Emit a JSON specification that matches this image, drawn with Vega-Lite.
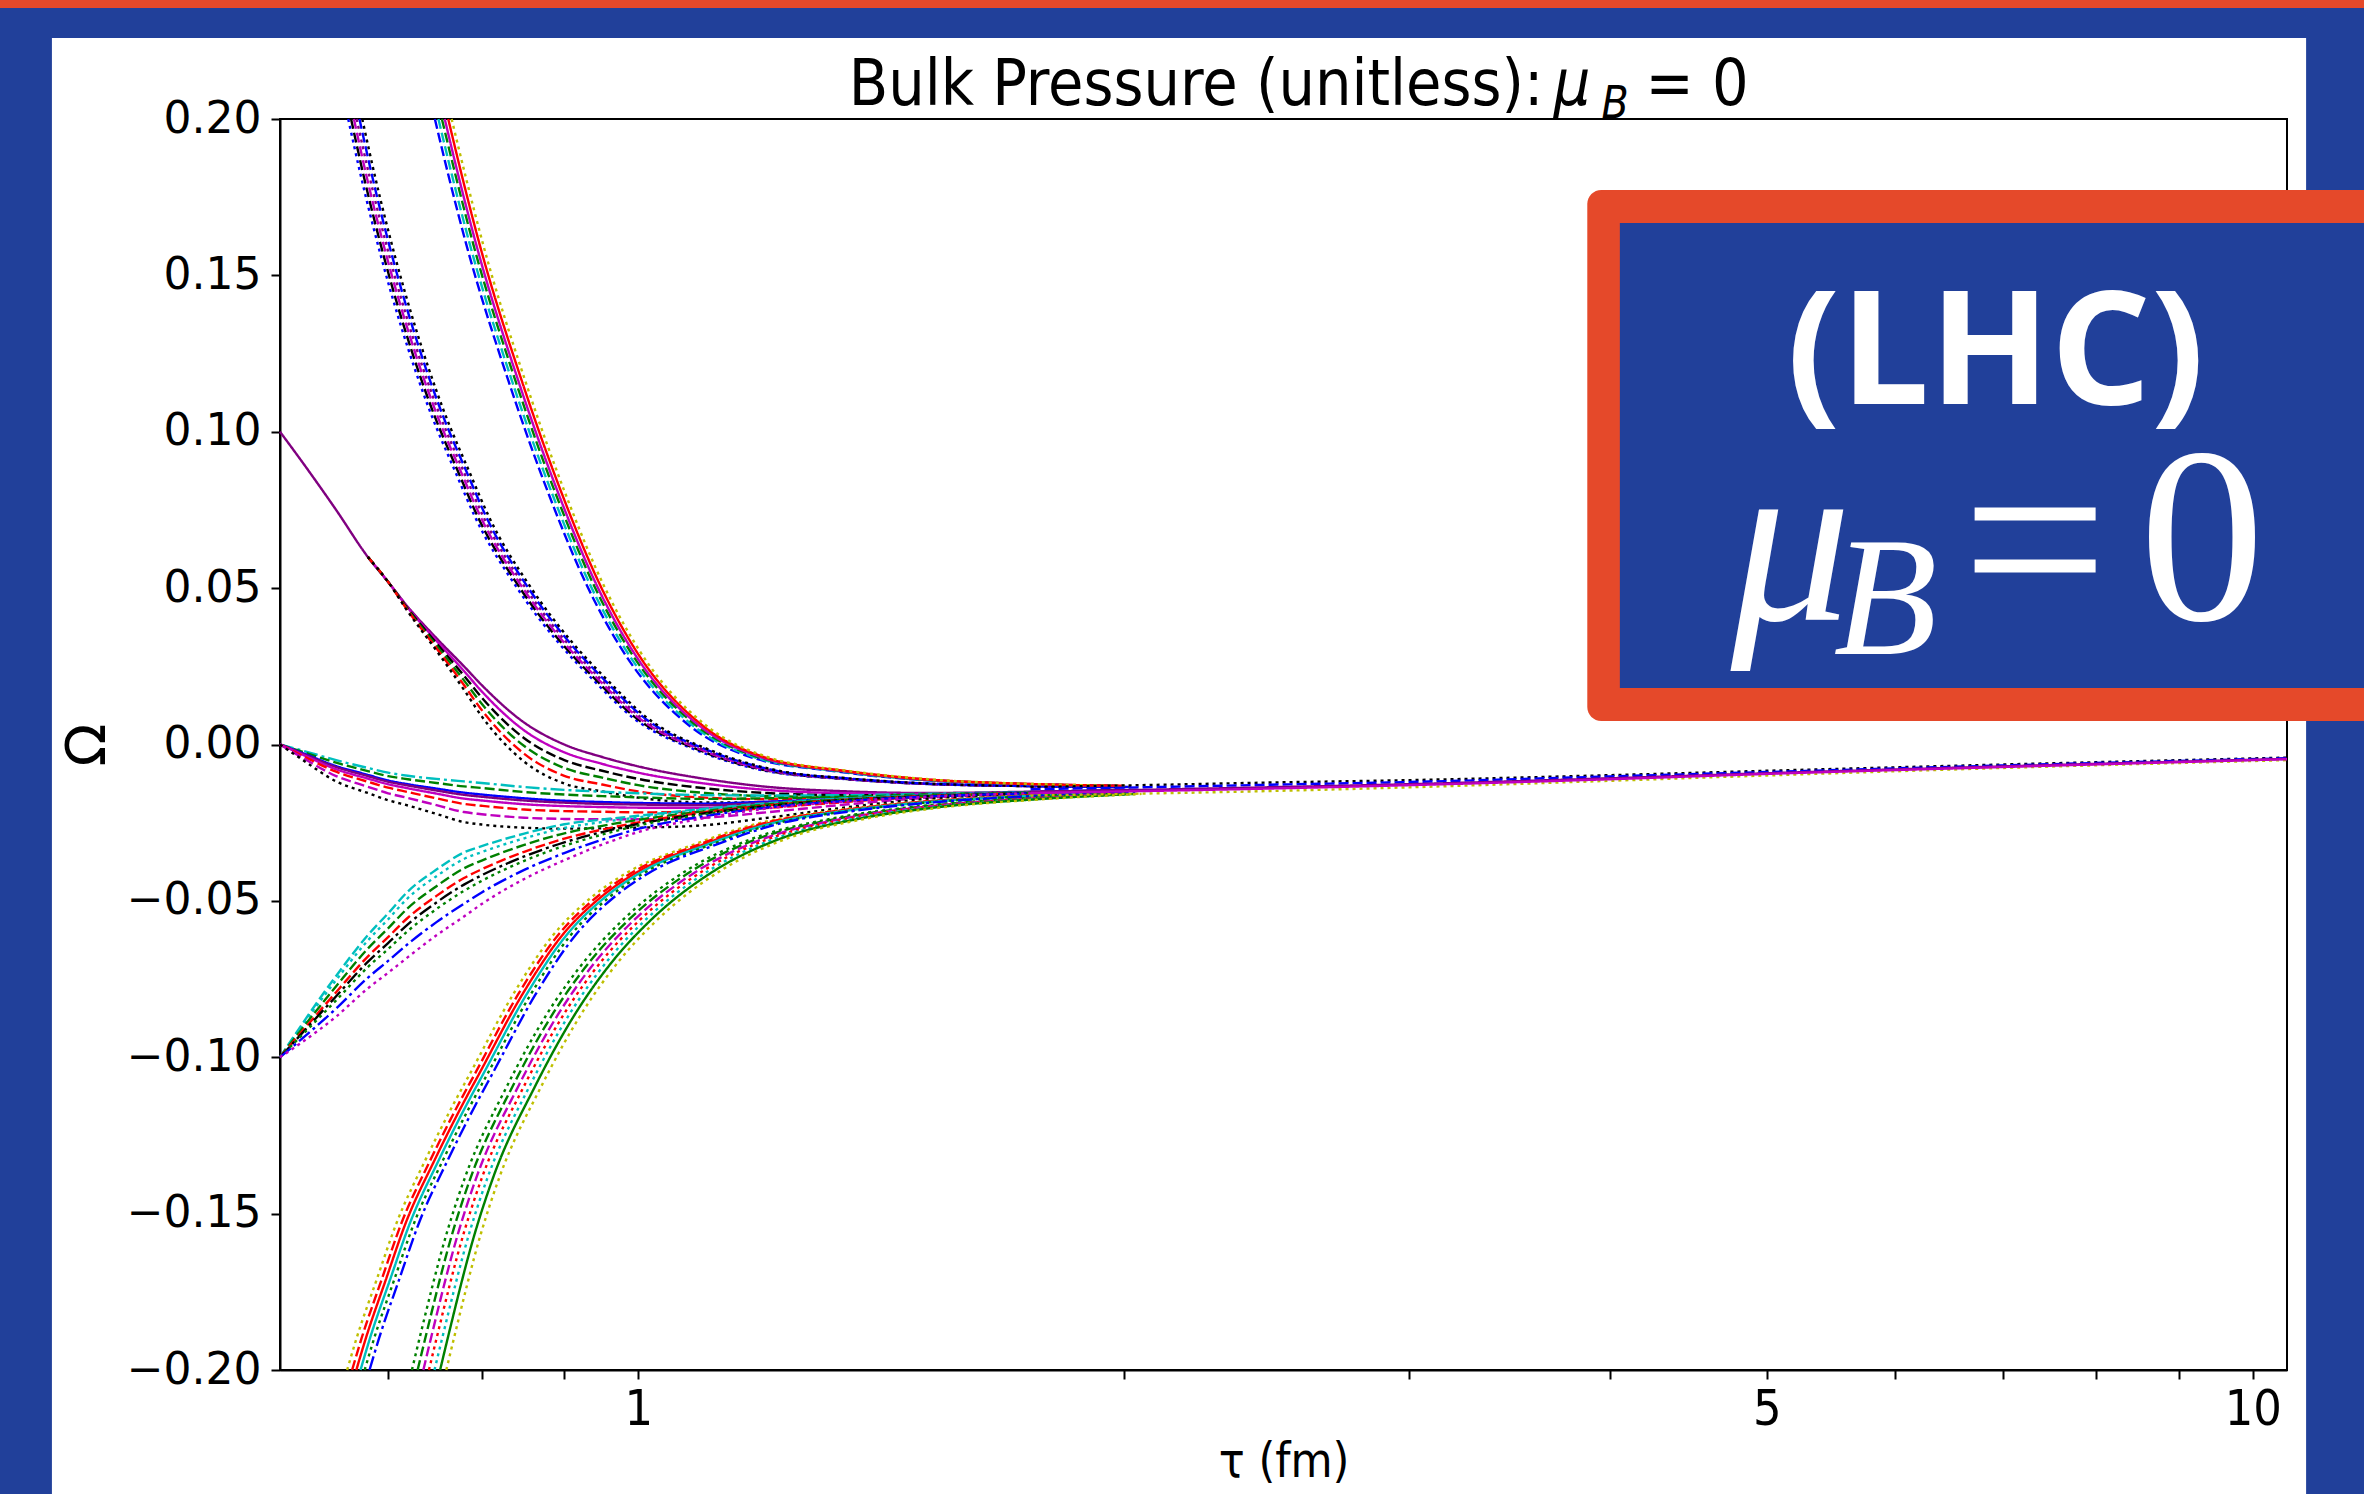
{
"$schema": "https://vega.github.io/schema/vega-lite/v6.json",
"width": 2007, "height": 1251,
"autosize": {"type": "none"},
"padding": {"left": 280, "top": 119, "right": 77, "bottom": 124},
"background": "#FFFFFF",
"config": {"view": {"stroke": "#000000", "strokeWidth": 2}, "font": "DejaVu Sans"},
"datasets": {
"curves": [
{"s":"A1","t":0.6,"o":0.1},{"s":"A1","t":0.62,"o":0.09},{"s":"A1","t":0.65,"o":0.075},{"s":"A1","t":0.68,"o":0.06},{"s":"A1","t":0.7,"o":0.052},{"s":"A1","t":0.72,"o":0.044},{"s":"A1","t":0.75,"o":0.034},{"s":"A1","t":0.78,"o":0.025},{"s":"A1","t":0.8,"o":0.019},{"s":"A1","t":0.85,"o":0.007},{"s":"A1","t":0.9,"o":0},{"s":"A1","t":0.95,"o":-0.004},{"s":"A1","t":1,"o":-0.007},{"s":"A1","t":1.1,"o":-0.011},{"s":"A1","t":1.2,"o":-0.0135},{"s":"A1","t":1.35,"o":-0.015},{"s":"A1","t":1.5,"o":-0.0155},{"s":"A1","t":1.75,"o":-0.0151},{"s":"A1","t":2,"o":-0.0146},
{"s":"A2","t":0.68,"o":0.06},{"s":"A2","t":0.7,"o":0.052},{"s":"A2","t":0.72,"o":0.0437},{"s":"A2","t":0.75,"o":0.0332},{"s":"A2","t":0.78,"o":0.0235},{"s":"A2","t":0.8,"o":0.017},{"s":"A2","t":0.85,"o":0.0045},{"s":"A2","t":0.9,"o":-0.0025},{"s":"A2","t":0.95,"o":-0.0062},{"s":"A2","t":1,"o":-0.009},{"s":"A2","t":1.1,"o":-0.0125},{"s":"A2","t":1.2,"o":-0.0145},{"s":"A2","t":1.35,"o":-0.0156},{"s":"A2","t":1.5,"o":-0.0158},{"s":"A2","t":1.75,"o":-0.0152},{"s":"A2","t":2,"o":-0.0146},
{"s":"A3","t":0.68,"o":0.06},{"s":"A3","t":0.7,"o":0.052},{"s":"A3","t":0.72,"o":0.0434},{"s":"A3","t":0.75,"o":0.0324},{"s":"A3","t":0.78,"o":0.022},{"s":"A3","t":0.8,"o":0.015},{"s":"A3","t":0.85,"o":0.002},{"s":"A3","t":0.9,"o":-0.005},{"s":"A3","t":0.95,"o":-0.0084},{"s":"A3","t":1,"o":-0.011},{"s":"A3","t":1.1,"o":-0.014},{"s":"A3","t":1.2,"o":-0.0155},{"s":"A3","t":1.35,"o":-0.0162},{"s":"A3","t":1.5,"o":-0.0161},{"s":"A3","t":1.75,"o":-0.0153},{"s":"A3","t":2,"o":-0.0146},
{"s":"A4","t":0.68,"o":0.06},{"s":"A4","t":0.7,"o":0.052},{"s":"A4","t":0.72,"o":0.0431},{"s":"A4","t":0.75,"o":0.0316},{"s":"A4","t":0.78,"o":0.0205},{"s":"A4","t":0.8,"o":0.013},{"s":"A4","t":0.85,"o":-0.0005},{"s":"A4","t":0.9,"o":-0.0075},{"s":"A4","t":0.95,"o":-0.0106},{"s":"A4","t":1,"o":-0.013},{"s":"A4","t":1.1,"o":-0.0155},{"s":"A4","t":1.2,"o":-0.0165},{"s":"A4","t":1.35,"o":-0.0168},{"s":"A4","t":1.5,"o":-0.0164},{"s":"A4","t":1.75,"o":-0.0154},{"s":"A4","t":2,"o":-0.0146},
{"s":"A5","t":0.68,"o":0.06},{"s":"A5","t":0.7,"o":0.052},{"s":"A5","t":0.72,"o":0.0428},{"s":"A5","t":0.75,"o":0.0308},{"s":"A5","t":0.78,"o":0.019},{"s":"A5","t":0.8,"o":0.011},{"s":"A5","t":0.85,"o":-0.003},{"s":"A5","t":0.9,"o":-0.01},{"s":"A5","t":0.95,"o":-0.0128},{"s":"A5","t":1,"o":-0.015},{"s":"A5","t":1.1,"o":-0.017},{"s":"A5","t":1.2,"o":-0.0175},{"s":"A5","t":1.35,"o":-0.0174},{"s":"A5","t":1.5,"o":-0.0167},{"s":"A5","t":1.75,"o":-0.0155},{"s":"A5","t":2,"o":-0.0146},
{"s":"A6","t":0.68,"o":0.06},{"s":"A6","t":0.7,"o":0.052},{"s":"A6","t":0.72,"o":0.0425},{"s":"A6","t":0.75,"o":0.03},{"s":"A6","t":0.78,"o":0.0175},{"s":"A6","t":0.8,"o":0.009},{"s":"A6","t":0.85,"o":-0.0055},{"s":"A6","t":0.9,"o":-0.0125},{"s":"A6","t":0.95,"o":-0.015},{"s":"A6","t":1,"o":-0.017},{"s":"A6","t":1.1,"o":-0.0185},{"s":"A6","t":1.2,"o":-0.0185},{"s":"A6","t":1.35,"o":-0.018},{"s":"A6","t":1.5,"o":-0.017},{"s":"A6","t":1.75,"o":-0.0156},{"s":"A6","t":2,"o":-0.0146},
{"s":"B1a","t":0.6613,"o":0.2},{"s":"B1a","t":0.6732,"o":0.182},{"s":"B1a","t":0.693,"o":0.156},{"s":"B1a","t":0.7128,"o":0.134},{"s":"B1a","t":0.7425,"o":0.107},{"s":"B1a","t":0.7722,"o":0.086},{"s":"B1a","t":0.792,"o":0.073},{"s":"B1a","t":0.8415,"o":0.05},{"s":"B1a","t":0.891,"o":0.033},{"s":"B1a","t":0.9405,"o":0.02},{"s":"B1a","t":0.99,"o":0.009},{"s":"B1a","t":1.089,"o":-0.002},{"s":"B1a","t":1.188,"o":-0.008},{"s":"B1a","t":1.3365,"o":-0.011},{"s":"B1a","t":1.485,"o":-0.0125},{"s":"B1a","t":1.7325,"o":-0.0133},{"s":"B1a","t":1.98,"o":-0.0136},
{"s":"B1b","t":0.664,"o":0.2},{"s":"B1b","t":0.6759,"o":0.182},{"s":"B1b","t":0.6958,"o":0.156},{"s":"B1b","t":0.7157,"o":0.134},{"s":"B1b","t":0.7455,"o":0.107},{"s":"B1b","t":0.7753,"o":0.086},{"s":"B1b","t":0.7952,"o":0.073},{"s":"B1b","t":0.8449,"o":0.05},{"s":"B1b","t":0.8946,"o":0.033},{"s":"B1b","t":0.9443,"o":0.02},{"s":"B1b","t":0.994,"o":0.009},{"s":"B1b","t":1.0934,"o":-0.002},{"s":"B1b","t":1.1928,"o":-0.008},{"s":"B1b","t":1.3419,"o":-0.011},{"s":"B1b","t":1.491,"o":-0.0125},{"s":"B1b","t":1.7395,"o":-0.0133},{"s":"B1b","t":1.988,"o":-0.0136},
{"s":"B1c","t":0.6667,"o":0.2},{"s":"B1c","t":0.6786,"o":0.182},{"s":"B1c","t":0.6986,"o":0.156},{"s":"B1c","t":0.7186,"o":0.134},{"s":"B1c","t":0.7485,"o":0.107},{"s":"B1c","t":0.7784,"o":0.086},{"s":"B1c","t":0.7984,"o":0.073},{"s":"B1c","t":0.8483,"o":0.05},{"s":"B1c","t":0.8982,"o":0.033},{"s":"B1c","t":0.9481,"o":0.02},{"s":"B1c","t":0.998,"o":0.009},{"s":"B1c","t":1.0978,"o":-0.002},{"s":"B1c","t":1.1976,"o":-0.008},{"s":"B1c","t":1.3473,"o":-0.011},{"s":"B1c","t":1.497,"o":-0.0125},{"s":"B1c","t":1.7465,"o":-0.0133},{"s":"B1c","t":1.996,"o":-0.0136},
{"s":"B1d","t":0.6693,"o":0.2},{"s":"B1d","t":0.6814,"o":0.182},{"s":"B1d","t":0.7014,"o":0.156},{"s":"B1d","t":0.7214,"o":0.134},{"s":"B1d","t":0.7515,"o":0.107},{"s":"B1d","t":0.7816,"o":0.086},{"s":"B1d","t":0.8016,"o":0.073},{"s":"B1d","t":0.8517,"o":0.05},{"s":"B1d","t":0.9018,"o":0.033},{"s":"B1d","t":0.9519,"o":0.02},{"s":"B1d","t":1.002,"o":0.009},{"s":"B1d","t":1.1022,"o":-0.002},{"s":"B1d","t":1.2024,"o":-0.008},{"s":"B1d","t":1.3527,"o":-0.011},{"s":"B1d","t":1.503,"o":-0.0125},{"s":"B1d","t":1.7535,"o":-0.0133},{"s":"B1d","t":2.004,"o":-0.0136},
{"s":"B1e","t":0.672,"o":0.2},{"s":"B1e","t":0.6841,"o":0.182},{"s":"B1e","t":0.7042,"o":0.156},{"s":"B1e","t":0.7243,"o":0.134},{"s":"B1e","t":0.7545,"o":0.107},{"s":"B1e","t":0.7847,"o":0.086},{"s":"B1e","t":0.8048,"o":0.073},{"s":"B1e","t":0.8551,"o":0.05},{"s":"B1e","t":0.9054,"o":0.033},{"s":"B1e","t":0.9557,"o":0.02},{"s":"B1e","t":1.006,"o":0.009},{"s":"B1e","t":1.1066,"o":-0.002},{"s":"B1e","t":1.2072,"o":-0.008},{"s":"B1e","t":1.3581,"o":-0.011},{"s":"B1e","t":1.509,"o":-0.0125},{"s":"B1e","t":1.7605,"o":-0.0133},{"s":"B1e","t":2.012,"o":-0.0136},
{"s":"B1f","t":0.6747,"o":0.2},{"s":"B1f","t":0.6868,"o":0.182},{"s":"B1f","t":0.707,"o":0.156},{"s":"B1f","t":0.7272,"o":0.134},{"s":"B1f","t":0.7575,"o":0.107},{"s":"B1f","t":0.7878,"o":0.086},{"s":"B1f","t":0.808,"o":0.073},{"s":"B1f","t":0.8585,"o":0.05},{"s":"B1f","t":0.909,"o":0.033},{"s":"B1f","t":0.9595,"o":0.02},{"s":"B1f","t":1.01,"o":0.009},{"s":"B1f","t":1.111,"o":-0.002},{"s":"B1f","t":1.212,"o":-0.008},{"s":"B1f","t":1.3635,"o":-0.011},{"s":"B1f","t":1.515,"o":-0.0125},{"s":"B1f","t":1.7675,"o":-0.0133},{"s":"B1f","t":2.02,"o":-0.0136},
{"s":"B2a","t":0.7483,"o":0.2},{"s":"B2a","t":0.7629,"o":0.182},{"s":"B2a","t":0.7825,"o":0.16},{"s":"B2a","t":0.8314,"o":0.116},{"s":"B2a","t":0.8803,"o":0.08},{"s":"B2a","t":0.9292,"o":0.051},{"s":"B2a","t":0.9781,"o":0.03},{"s":"B2a","t":1.0759,"o":0.006},{"s":"B2a","t":1.1737,"o":-0.004},{"s":"B2a","t":1.3205,"o":-0.0085},{"s":"B2a","t":1.4672,"o":-0.011},{"s":"B2a","t":1.7117,"o":-0.0126},{"s":"B2a","t":1.9562,"o":-0.0132},
{"s":"B2b","t":0.7521,"o":0.2},{"s":"B2b","t":0.7668,"o":0.182},{"s":"B2b","t":0.7865,"o":0.16},{"s":"B2b","t":0.8356,"o":0.116},{"s":"B2b","t":0.8848,"o":0.08},{"s":"B2b","t":0.9339,"o":0.051},{"s":"B2b","t":0.9831,"o":0.03},{"s":"B2b","t":1.0814,"o":0.006},{"s":"B2b","t":1.1797,"o":-0.004},{"s":"B2b","t":1.3271,"o":-0.0085},{"s":"B2b","t":1.4746,"o":-0.011},{"s":"B2b","t":1.7204,"o":-0.0126},{"s":"B2b","t":1.9661,"o":-0.0132},
{"s":"B2c","t":0.7558,"o":0.2},{"s":"B2c","t":0.7707,"o":0.182},{"s":"B2c","t":0.7904,"o":0.16},{"s":"B2c","t":0.8398,"o":0.116},{"s":"B2c","t":0.8892,"o":0.08},{"s":"B2c","t":0.9386,"o":0.051},{"s":"B2c","t":0.988,"o":0.03},{"s":"B2c","t":1.0868,"o":0.006},{"s":"B2c","t":1.1856,"o":-0.004},{"s":"B2c","t":1.3338,"o":-0.0085},{"s":"B2c","t":1.482,"o":-0.011},{"s":"B2c","t":1.729,"o":-0.0126},{"s":"B2c","t":1.976,"o":-0.0132},
{"s":"B2d","t":0.7589,"o":0.2},{"s":"B2d","t":0.7737,"o":0.182},{"s":"B2d","t":0.7936,"o":0.16},{"s":"B2d","t":0.8432,"o":0.116},{"s":"B2d","t":0.8928,"o":0.08},{"s":"B2d","t":0.9424,"o":0.051},{"s":"B2d","t":0.992,"o":0.03},{"s":"B2d","t":1.0912,"o":0.006},{"s":"B2d","t":1.1904,"o":-0.004},{"s":"B2d","t":1.3392,"o":-0.0085},{"s":"B2d","t":1.488,"o":-0.011},{"s":"B2d","t":1.736,"o":-0.0126},{"s":"B2d","t":1.984,"o":-0.0132},
{"s":"B2e","t":0.7627,"o":0.2},{"s":"B2e","t":0.7776,"o":0.182},{"s":"B2e","t":0.7975,"o":0.16},{"s":"B2e","t":0.8474,"o":0.116},{"s":"B2e","t":0.8972,"o":0.08},{"s":"B2e","t":0.9471,"o":0.051},{"s":"B2e","t":0.9969,"o":0.03},{"s":"B2e","t":1.0966,"o":0.006},{"s":"B2e","t":1.1963,"o":-0.004},{"s":"B2e","t":1.3459,"o":-0.0085},{"s":"B2e","t":1.4954,"o":-0.011},{"s":"B2e","t":1.7446,"o":-0.0126},{"s":"B2e","t":1.9939,"o":-0.0132},
{"s":"B2f","t":0.7664,"o":0.2},{"s":"B2f","t":0.7815,"o":0.182},{"s":"B2f","t":0.8015,"o":0.16},{"s":"B2f","t":0.8516,"o":0.116},{"s":"B2f","t":0.9017,"o":0.08},{"s":"B2f","t":0.9518,"o":0.051},{"s":"B2f","t":1.0019,"o":0.03},{"s":"B2f","t":1.1021,"o":0.006},{"s":"B2f","t":1.2023,"o":-0.004},{"s":"B2f","t":1.3525,"o":-0.0085},{"s":"B2f","t":1.5028,"o":-0.011},{"s":"B2f","t":1.7533,"o":-0.0126},{"s":"B2f","t":2.0038,"o":-0.0132},
{"s":"C1","t":0.6,"o":0},{"s":"C1","t":0.62,"o":-0.002},{"s":"C1","t":0.65,"o":-0.005},{"s":"C1","t":0.68,"o":-0.0075},{"s":"C1","t":0.7,"o":-0.009},{"s":"C1","t":0.72,"o":-0.01},{"s":"C1","t":0.75,"o":-0.011},{"s":"C1","t":0.78,"o":-0.0118},{"s":"C1","t":0.8,"o":-0.0123},{"s":"C1","t":0.85,"o":-0.0136},{"s":"C1","t":0.9,"o":-0.0145},{"s":"C1","t":0.95,"o":-0.0151},{"s":"C1","t":1,"o":-0.0156},{"s":"C1","t":1.1,"o":-0.0162},{"s":"C1","t":1.2,"o":-0.0163},{"s":"C1","t":1.35,"o":-0.0162},{"s":"C1","t":1.5,"o":-0.0158},{"s":"C1","t":1.75,"o":-0.0152},{"s":"C1","t":2,"o":-0.0146},
{"s":"C2","t":0.6,"o":0},{"s":"C2","t":0.62,"o":-0.0024},{"s":"C2","t":0.65,"o":-0.0058},{"s":"C2","t":0.68,"o":-0.0085},{"s":"C2","t":0.7,"o":-0.0101},{"s":"C2","t":0.72,"o":-0.0111},{"s":"C2","t":0.75,"o":-0.0123},{"s":"C2","t":0.78,"o":-0.0134},{"s":"C2","t":0.8,"o":-0.0139},{"s":"C2","t":0.85,"o":-0.0152},{"s":"C2","t":0.9,"o":-0.016},{"s":"C2","t":0.95,"o":-0.0165},{"s":"C2","t":1,"o":-0.0169},{"s":"C2","t":1.1,"o":-0.0174},{"s":"C2","t":1.2,"o":-0.0172},{"s":"C2","t":1.35,"o":-0.0167},{"s":"C2","t":1.5,"o":-0.016},{"s":"C2","t":1.75,"o":-0.0153},{"s":"C2","t":2,"o":-0.0146},
{"s":"C3","t":0.6,"o":0},{"s":"C3","t":0.62,"o":-0.0028},{"s":"C3","t":0.65,"o":-0.0069},{"s":"C3","t":0.68,"o":-0.0097},{"s":"C3","t":0.7,"o":-0.0115},{"s":"C3","t":0.72,"o":-0.0127},{"s":"C3","t":0.75,"o":-0.0141},{"s":"C3","t":0.78,"o":-0.0154},{"s":"C3","t":0.8,"o":-0.016},{"s":"C3","t":0.85,"o":-0.0172},{"s":"C3","t":0.9,"o":-0.018},{"s":"C3","t":0.95,"o":-0.0184},{"s":"C3","t":1,"o":-0.0187},{"s":"C3","t":1.1,"o":-0.0189},{"s":"C3","t":1.2,"o":-0.0183},{"s":"C3","t":1.35,"o":-0.0173},{"s":"C3","t":1.5,"o":-0.0163},{"s":"C3","t":1.75,"o":-0.0153},{"s":"C3","t":2,"o":-0.0146},
{"s":"C4","t":0.6,"o":0},{"s":"C4","t":0.62,"o":-0.003},{"s":"C4","t":0.65,"o":-0.0072},{"s":"C4","t":0.68,"o":-0.0101},{"s":"C4","t":0.7,"o":-0.0119},{"s":"C4","t":0.72,"o":-0.0131},{"s":"C4","t":0.75,"o":-0.0147},{"s":"C4","t":0.78,"o":-0.0161},{"s":"C4","t":0.8,"o":-0.0167},{"s":"C4","t":0.85,"o":-0.0179},{"s":"C4","t":0.9,"o":-0.0186},{"s":"C4","t":0.95,"o":-0.019},{"s":"C4","t":1,"o":-0.0192},{"s":"C4","t":1.1,"o":-0.0194},{"s":"C4","t":1.2,"o":-0.0187},{"s":"C4","t":1.35,"o":-0.0175},{"s":"C4","t":1.5,"o":-0.0164},{"s":"C4","t":1.75,"o":-0.0154},{"s":"C4","t":2,"o":-0.0146},
{"s":"C5","t":0.6,"o":0},{"s":"C5","t":0.62,"o":-0.0033},{"s":"C5","t":0.65,"o":-0.0079},{"s":"C5","t":0.68,"o":-0.0109},{"s":"C5","t":0.7,"o":-0.0127},{"s":"C5","t":0.72,"o":-0.014},{"s":"C5","t":0.75,"o":-0.0157},{"s":"C5","t":0.78,"o":-0.0173},{"s":"C5","t":0.8,"o":-0.0179},{"s":"C5","t":0.85,"o":-0.0191},{"s":"C5","t":0.9,"o":-0.0197},{"s":"C5","t":0.95,"o":-0.02},{"s":"C5","t":1,"o":-0.0202},{"s":"C5","t":1.1,"o":-0.0202},{"s":"C5","t":1.2,"o":-0.0193},{"s":"C5","t":1.35,"o":-0.0178},{"s":"C5","t":1.5,"o":-0.0165},{"s":"C5","t":1.75,"o":-0.0154},{"s":"C5","t":2,"o":-0.0146},
{"s":"C6","t":0.6,"o":0},{"s":"C6","t":0.62,"o":-0.0037},{"s":"C6","t":0.65,"o":-0.0087},{"s":"C6","t":0.68,"o":-0.0119},{"s":"C6","t":0.7,"o":-0.0138},{"s":"C6","t":0.72,"o":-0.0152},{"s":"C6","t":0.75,"o":-0.0172},{"s":"C6","t":0.78,"o":-0.019},{"s":"C6","t":0.8,"o":-0.0196},{"s":"C6","t":0.85,"o":-0.0208},{"s":"C6","t":0.9,"o":-0.0213},{"s":"C6","t":0.95,"o":-0.0215},{"s":"C6","t":1,"o":-0.0217},{"s":"C6","t":1.1,"o":-0.0215},{"s":"C6","t":1.2,"o":-0.0203},{"s":"C6","t":1.35,"o":-0.0183},{"s":"C6","t":1.5,"o":-0.0167},{"s":"C6","t":1.75,"o":-0.0155},{"s":"C6","t":2,"o":-0.0147},
{"s":"C7","t":0.6,"o":0},{"s":"C7","t":0.62,"o":-0.0043},{"s":"C7","t":0.65,"o":-0.0101},{"s":"C7","t":0.68,"o":-0.0135},{"s":"C7","t":0.7,"o":-0.0156},{"s":"C7","t":0.72,"o":-0.0171},{"s":"C7","t":0.75,"o":-0.0194},{"s":"C7","t":0.78,"o":-0.0216},{"s":"C7","t":0.8,"o":-0.0223},{"s":"C7","t":0.85,"o":-0.0234},{"s":"C7","t":0.9,"o":-0.0238},{"s":"C7","t":0.95,"o":-0.0239},{"s":"C7","t":1,"o":-0.0239},{"s":"C7","t":1.1,"o":-0.0234},{"s":"C7","t":1.2,"o":-0.0217},{"s":"C7","t":1.35,"o":-0.0191},{"s":"C7","t":1.5,"o":-0.0171},{"s":"C7","t":1.75,"o":-0.0156},{"s":"C7","t":2,"o":-0.0147},
{"s":"C8","t":0.6,"o":0},{"s":"C8","t":0.62,"o":-0.005},{"s":"C8","t":0.65,"o":-0.0118},{"s":"C8","t":0.68,"o":-0.0155},{"s":"C8","t":0.7,"o":-0.0178},{"s":"C8","t":0.72,"o":-0.0195},{"s":"C8","t":0.75,"o":-0.0222},{"s":"C8","t":0.78,"o":-0.0248},{"s":"C8","t":0.8,"o":-0.0256},{"s":"C8","t":0.85,"o":-0.0266},{"s":"C8","t":0.9,"o":-0.0269},{"s":"C8","t":0.95,"o":-0.0268},{"s":"C8","t":1,"o":-0.0266},{"s":"C8","t":1.1,"o":-0.0258},{"s":"C8","t":1.2,"o":-0.0235},{"s":"C8","t":1.35,"o":-0.02},{"s":"C8","t":1.5,"o":-0.0175},{"s":"C8","t":1.75,"o":-0.0157},{"s":"C8","t":2,"o":-0.0147},
{"s":"D1","t":0.6,"o":-0.1},{"s":"D1","t":0.62,"o":-0.089},{"s":"D1","t":0.65,"o":-0.074},{"s":"D1","t":0.68,"o":-0.061},{"s":"D1","t":0.7,"o":-0.054},{"s":"D1","t":0.72,"o":-0.047},{"s":"D1","t":0.75,"o":-0.04},{"s":"D1","t":0.78,"o":-0.0345},{"s":"D1","t":0.8,"o":-0.0325},{"s":"D1","t":0.85,"o":-0.0285},{"s":"D1","t":0.9,"o":-0.0255},{"s":"D1","t":0.95,"o":-0.024},{"s":"D1","t":1,"o":-0.0228},{"s":"D1","t":1.1,"o":-0.0205},{"s":"D1","t":1.2,"o":-0.0188},{"s":"D1","t":1.35,"o":-0.0172},{"s":"D1","t":1.5,"o":-0.0163},{"s":"D1","t":1.75,"o":-0.0154},{"s":"D1","t":2,"o":-0.0147},
{"s":"D2","t":0.6,"o":-0.1},{"s":"D2","t":0.62,"o":-0.0896},{"s":"D2","t":0.65,"o":-0.0753},{"s":"D2","t":0.68,"o":-0.0627},{"s":"D2","t":0.7,"o":-0.0559},{"s":"D2","t":0.72,"o":-0.0491},{"s":"D2","t":0.75,"o":-0.0421},{"s":"D2","t":0.78,"o":-0.0366},{"s":"D2","t":0.8,"o":-0.0344},{"s":"D2","t":0.85,"o":-0.03},{"s":"D2","t":0.9,"o":-0.0267},{"s":"D2","t":0.95,"o":-0.0248},{"s":"D2","t":1,"o":-0.0233},{"s":"D2","t":1.1,"o":-0.0208},{"s":"D2","t":1.2,"o":-0.019},{"s":"D2","t":1.35,"o":-0.0173},{"s":"D2","t":1.5,"o":-0.0163},{"s":"D2","t":1.75,"o":-0.0154},{"s":"D2","t":2,"o":-0.0147},
{"s":"D3","t":0.6,"o":-0.1},{"s":"D3","t":0.62,"o":-0.0905},{"s":"D3","t":0.65,"o":-0.0773},{"s":"D3","t":0.68,"o":-0.0653},{"s":"D3","t":0.7,"o":-0.0588},{"s":"D3","t":0.72,"o":-0.0523},{"s":"D3","t":0.75,"o":-0.0453},{"s":"D3","t":0.78,"o":-0.0396},{"s":"D3","t":0.8,"o":-0.0371},{"s":"D3","t":0.85,"o":-0.0321},{"s":"D3","t":0.9,"o":-0.0284},{"s":"D3","t":0.95,"o":-0.026},{"s":"D3","t":1,"o":-0.0241},{"s":"D3","t":1.1,"o":-0.0213},{"s":"D3","t":1.2,"o":-0.0192},{"s":"D3","t":1.35,"o":-0.0175},{"s":"D3","t":1.5,"o":-0.0164},{"s":"D3","t":1.75,"o":-0.0154},{"s":"D3","t":2,"o":-0.0147},
{"s":"D4","t":0.6,"o":-0.1},{"s":"D4","t":0.62,"o":-0.0914},{"s":"D4","t":0.65,"o":-0.0792},{"s":"D4","t":0.68,"o":-0.0678},{"s":"D4","t":0.7,"o":-0.0616},{"s":"D4","t":0.72,"o":-0.0554},{"s":"D4","t":0.75,"o":-0.0484},{"s":"D4","t":0.78,"o":-0.0427},{"s":"D4","t":0.8,"o":-0.0399},{"s":"D4","t":0.85,"o":-0.0343},{"s":"D4","t":0.9,"o":-0.0301},{"s":"D4","t":0.95,"o":-0.0272},{"s":"D4","t":1,"o":-0.0249},{"s":"D4","t":1.1,"o":-0.0217},{"s":"D4","t":1.2,"o":-0.0195},{"s":"D4","t":1.35,"o":-0.0176},{"s":"D4","t":1.5,"o":-0.0165},{"s":"D4","t":1.75,"o":-0.0155},{"s":"D4","t":2,"o":-0.0147},
{"s":"D5","t":0.6,"o":-0.1},{"s":"D5","t":0.62,"o":-0.092},{"s":"D5","t":0.65,"o":-0.0805},{"s":"D5","t":0.68,"o":-0.0695},{"s":"D5","t":0.7,"o":-0.0635},{"s":"D5","t":0.72,"o":-0.0575},{"s":"D5","t":0.75,"o":-0.0505},{"s":"D5","t":0.78,"o":-0.0448},{"s":"D5","t":0.8,"o":-0.0418},{"s":"D5","t":0.85,"o":-0.0358},{"s":"D5","t":0.9,"o":-0.0313},{"s":"D5","t":0.95,"o":-0.028},{"s":"D5","t":1,"o":-0.0254},{"s":"D5","t":1.1,"o":-0.022},{"s":"D5","t":1.2,"o":-0.0197},{"s":"D5","t":1.35,"o":-0.0177},{"s":"D5","t":1.5,"o":-0.0166},{"s":"D5","t":1.75,"o":-0.0155},{"s":"D5","t":2,"o":-0.0147},
{"s":"D6","t":0.6,"o":-0.1},{"s":"D6","t":0.62,"o":-0.0926},{"s":"D6","t":0.65,"o":-0.0818},{"s":"D6","t":0.68,"o":-0.0712},{"s":"D6","t":0.7,"o":-0.0654},{"s":"D6","t":0.72,"o":-0.0596},{"s":"D6","t":0.75,"o":-0.0526},{"s":"D6","t":0.78,"o":-0.0468},{"s":"D6","t":0.8,"o":-0.0436},{"s":"D6","t":0.85,"o":-0.0372},{"s":"D6","t":0.9,"o":-0.0324},{"s":"D6","t":0.95,"o":-0.0288},{"s":"D6","t":1,"o":-0.0259},{"s":"D6","t":1.1,"o":-0.0223},{"s":"D6","t":1.2,"o":-0.0198},{"s":"D6","t":1.35,"o":-0.0178},{"s":"D6","t":1.5,"o":-0.0166},{"s":"D6","t":1.75,"o":-0.0155},{"s":"D6","t":2,"o":-0.0148},
{"s":"D7","t":0.6,"o":-0.1},{"s":"D7","t":0.62,"o":-0.0938},{"s":"D7","t":0.65,"o":-0.0844},{"s":"D7","t":0.68,"o":-0.0746},{"s":"D7","t":0.7,"o":-0.0692},{"s":"D7","t":0.72,"o":-0.0638},{"s":"D7","t":0.75,"o":-0.0568},{"s":"D7","t":0.78,"o":-0.0509},{"s":"D7","t":0.8,"o":-0.0473},{"s":"D7","t":0.85,"o":-0.0401},{"s":"D7","t":0.9,"o":-0.0347},{"s":"D7","t":0.95,"o":-0.0304},{"s":"D7","t":1,"o":-0.027},{"s":"D7","t":1.1,"o":-0.0229},{"s":"D7","t":1.2,"o":-0.0202},{"s":"D7","t":1.35,"o":-0.018},{"s":"D7","t":1.5,"o":-0.0167},{"s":"D7","t":1.75,"o":-0.0156},{"s":"D7","t":2,"o":-0.0148},
{"s":"D8","t":0.6,"o":-0.1},{"s":"D8","t":0.62,"o":-0.095},{"s":"D8","t":0.65,"o":-0.087},{"s":"D8","t":0.68,"o":-0.078},{"s":"D8","t":0.7,"o":-0.073},{"s":"D8","t":0.72,"o":-0.068},{"s":"D8","t":0.75,"o":-0.061},{"s":"D8","t":0.78,"o":-0.055},{"s":"D8","t":0.8,"o":-0.051},{"s":"D8","t":0.85,"o":-0.043},{"s":"D8","t":0.9,"o":-0.037},{"s":"D8","t":0.95,"o":-0.032},{"s":"D8","t":1,"o":-0.028},{"s":"D8","t":1.1,"o":-0.0235},{"s":"D8","t":1.2,"o":-0.0205},{"s":"D8","t":1.35,"o":-0.0182},{"s":"D8","t":1.5,"o":-0.0168},{"s":"D8","t":1.75,"o":-0.0156},{"s":"D8","t":2,"o":-0.0148},
{"s":"E1a","t":0.6603,"o":-0.2},{"s":"E1a","t":0.6691,"o":-0.19},{"s":"E1a","t":0.6888,"o":-0.171},{"s":"E1a","t":0.7085,"o":-0.153},{"s":"E1a","t":0.738,"o":-0.133},{"s":"E1a","t":0.7675,"o":-0.1155},{"s":"E1a","t":0.7872,"o":-0.105},{"s":"E1a","t":0.8364,"o":-0.08},{"s":"E1a","t":0.8856,"o":-0.061},{"s":"E1a","t":0.9348,"o":-0.049},{"s":"E1a","t":0.984,"o":-0.041},{"s":"E1a","t":1.0824,"o":-0.032},{"s":"E1a","t":1.1808,"o":-0.0255},{"s":"E1a","t":1.3284,"o":-0.021},{"s":"E1a","t":1.476,"o":-0.0185},{"s":"E1a","t":1.722,"o":-0.0164},{"s":"E1a","t":1.968,"o":-0.0152},
{"s":"E1b","t":0.665,"o":-0.2},{"s":"E1b","t":0.6739,"o":-0.19},{"s":"E1b","t":0.6937,"o":-0.171},{"s":"E1b","t":0.7135,"o":-0.153},{"s":"E1b","t":0.7433,"o":-0.133},{"s":"E1b","t":0.773,"o":-0.1155},{"s":"E1b","t":0.7928,"o":-0.105},{"s":"E1b","t":0.8424,"o":-0.08},{"s":"E1b","t":0.8919,"o":-0.061},{"s":"E1b","t":0.9415,"o":-0.049},{"s":"E1b","t":0.991,"o":-0.041},{"s":"E1b","t":1.0901,"o":-0.032},{"s":"E1b","t":1.1892,"o":-0.0255},{"s":"E1b","t":1.3379,"o":-0.021},{"s":"E1b","t":1.4865,"o":-0.0185},{"s":"E1b","t":1.7343,"o":-0.0164},{"s":"E1b","t":1.982,"o":-0.0152},
{"s":"E1c","t":0.669,"o":-0.2},{"s":"E1c","t":0.678,"o":-0.19},{"s":"E1c","t":0.6979,"o":-0.171},{"s":"E1c","t":0.7178,"o":-0.153},{"s":"E1c","t":0.7478,"o":-0.133},{"s":"E1c","t":0.7777,"o":-0.1155},{"s":"E1c","t":0.7976,"o":-0.105},{"s":"E1c","t":0.8475,"o":-0.08},{"s":"E1c","t":0.8973,"o":-0.061},{"s":"E1c","t":0.9472,"o":-0.049},{"s":"E1c","t":0.997,"o":-0.041},{"s":"E1c","t":1.0967,"o":-0.032},{"s":"E1c","t":1.1964,"o":-0.0255},{"s":"E1c","t":1.346,"o":-0.021},{"s":"E1c","t":1.4955,"o":-0.0185},{"s":"E1c","t":1.7448,"o":-0.0164},{"s":"E1c","t":1.994,"o":-0.0152},
{"s":"E1d","t":0.673,"o":-0.2},{"s":"E1d","t":0.682,"o":-0.19},{"s":"E1d","t":0.7021,"o":-0.171},{"s":"E1d","t":0.7222,"o":-0.153},{"s":"E1d","t":0.7523,"o":-0.133},{"s":"E1d","t":0.7823,"o":-0.1155},{"s":"E1d","t":0.8024,"o":-0.105},{"s":"E1d","t":0.8526,"o":-0.08},{"s":"E1d","t":0.9027,"o":-0.061},{"s":"E1d","t":0.9529,"o":-0.049},{"s":"E1d","t":1.003,"o":-0.041},{"s":"E1d","t":1.1033,"o":-0.032},{"s":"E1d","t":1.2036,"o":-0.0255},{"s":"E1d","t":1.3541,"o":-0.021},{"s":"E1d","t":1.5045,"o":-0.0185},{"s":"E1d","t":1.7553,"o":-0.0164},{"s":"E1d","t":2.006,"o":-0.0152},
{"s":"E1e","t":0.677,"o":-0.2},{"s":"E1e","t":0.6861,"o":-0.19},{"s":"E1e","t":0.7063,"o":-0.171},{"s":"E1e","t":0.7265,"o":-0.153},{"s":"E1e","t":0.7568,"o":-0.133},{"s":"E1e","t":0.787,"o":-0.1155},{"s":"E1e","t":0.8072,"o":-0.105},{"s":"E1e","t":0.8577,"o":-0.08},{"s":"E1e","t":0.9081,"o":-0.061},{"s":"E1e","t":0.9586,"o":-0.049},{"s":"E1e","t":1.009,"o":-0.041},{"s":"E1e","t":1.1099,"o":-0.032},{"s":"E1e","t":1.2108,"o":-0.0255},{"s":"E1e","t":1.3622,"o":-0.021},{"s":"E1e","t":1.5135,"o":-0.0185},{"s":"E1e","t":1.7658,"o":-0.0164},{"s":"E1e","t":2.018,"o":-0.0152},
{"s":"E1f","t":0.6817,"o":-0.2},{"s":"E1f","t":0.6909,"o":-0.19},{"s":"E1f","t":0.7112,"o":-0.171},{"s":"E1f","t":0.7315,"o":-0.153},{"s":"E1f","t":0.762,"o":-0.133},{"s":"E1f","t":0.7925,"o":-0.1155},{"s":"E1f","t":0.8128,"o":-0.105},{"s":"E1f","t":0.8636,"o":-0.08},{"s":"E1f","t":0.9144,"o":-0.061},{"s":"E1f","t":0.9652,"o":-0.049},{"s":"E1f","t":1.016,"o":-0.041},{"s":"E1f","t":1.1176,"o":-0.032},{"s":"E1f","t":1.2192,"o":-0.0255},{"s":"E1f","t":1.3716,"o":-0.021},{"s":"E1f","t":1.524,"o":-0.0185},{"s":"E1f","t":1.778,"o":-0.0164},{"s":"E1f","t":2.032,"o":-0.0152},
{"s":"E2a","t":0.7242,"o":-0.2},{"s":"E2a","t":0.732,"o":-0.19},{"s":"E2a","t":0.7613,"o":-0.156},{"s":"E2a","t":0.7808,"o":-0.1387},{"s":"E2a","t":0.8296,"o":-0.1091},{"s":"E2a","t":0.8784,"o":-0.086},{"s":"E2a","t":0.9272,"o":-0.069},{"s":"E2a","t":0.976,"o":-0.0566},{"s":"E2a","t":1.0736,"o":-0.04},{"s":"E2a","t":1.1712,"o":-0.0305},{"s":"E2a","t":1.3176,"o":-0.0237},{"s":"E2a","t":1.464,"o":-0.0202},{"s":"E2a","t":1.708,"o":-0.0174},{"s":"E2a","t":1.952,"o":-0.0158},
{"s":"E2b","t":0.7301,"o":-0.2},{"s":"E2b","t":0.738,"o":-0.19},{"s":"E2b","t":0.7675,"o":-0.156},{"s":"E2b","t":0.7872,"o":-0.1387},{"s":"E2b","t":0.8364,"o":-0.1091},{"s":"E2b","t":0.8856,"o":-0.086},{"s":"E2b","t":0.9348,"o":-0.069},{"s":"E2b","t":0.984,"o":-0.0566},{"s":"E2b","t":1.0824,"o":-0.04},{"s":"E2b","t":1.1808,"o":-0.0305},{"s":"E2b","t":1.3284,"o":-0.0237},{"s":"E2b","t":1.476,"o":-0.0202},{"s":"E2b","t":1.722,"o":-0.0174},{"s":"E2b","t":1.968,"o":-0.0158},
{"s":"E2c","t":0.7361,"o":-0.2},{"s":"E2c","t":0.744,"o":-0.19},{"s":"E2c","t":0.7738,"o":-0.156},{"s":"E2c","t":0.7936,"o":-0.1387},{"s":"E2c","t":0.8432,"o":-0.1091},{"s":"E2c","t":0.8928,"o":-0.086},{"s":"E2c","t":0.9424,"o":-0.069},{"s":"E2c","t":0.992,"o":-0.0566},{"s":"E2c","t":1.0912,"o":-0.04},{"s":"E2c","t":1.1904,"o":-0.0305},{"s":"E2c","t":1.3392,"o":-0.0237},{"s":"E2c","t":1.488,"o":-0.0202},{"s":"E2c","t":1.736,"o":-0.0174},{"s":"E2c","t":1.984,"o":-0.0158},
{"s":"E2d","t":0.742,"o":-0.2},{"s":"E2d","t":0.75,"o":-0.19},{"s":"E2d","t":0.78,"o":-0.156},{"s":"E2d","t":0.8,"o":-0.1387},{"s":"E2d","t":0.85,"o":-0.1091},{"s":"E2d","t":0.9,"o":-0.086},{"s":"E2d","t":0.95,"o":-0.069},{"s":"E2d","t":1,"o":-0.0566},{"s":"E2d","t":1.1,"o":-0.04},{"s":"E2d","t":1.2,"o":-0.0305},{"s":"E2d","t":1.35,"o":-0.0237},{"s":"E2d","t":1.5,"o":-0.0202},{"s":"E2d","t":1.75,"o":-0.0174},{"s":"E2d","t":2,"o":-0.0158},
{"s":"E2e","t":0.7479,"o":-0.2},{"s":"E2e","t":0.756,"o":-0.19},{"s":"E2e","t":0.7862,"o":-0.156},{"s":"E2e","t":0.8064,"o":-0.1387},{"s":"E2e","t":0.8568,"o":-0.1091},{"s":"E2e","t":0.9072,"o":-0.086},{"s":"E2e","t":0.9576,"o":-0.069},{"s":"E2e","t":1.008,"o":-0.0566},{"s":"E2e","t":1.1088,"o":-0.04},{"s":"E2e","t":1.2096,"o":-0.0305},{"s":"E2e","t":1.3608,"o":-0.0237},{"s":"E2e","t":1.512,"o":-0.0202},{"s":"E2e","t":1.764,"o":-0.0174},{"s":"E2e","t":2.016,"o":-0.0158},
{"s":"E2f","t":0.7539,"o":-0.2},{"s":"E2f","t":0.762,"o":-0.19},{"s":"E2f","t":0.7925,"o":-0.156},{"s":"E2f","t":0.8128,"o":-0.1387},{"s":"E2f","t":0.8636,"o":-0.1091},{"s":"E2f","t":0.9144,"o":-0.086},{"s":"E2f","t":0.9652,"o":-0.069},{"s":"E2f","t":1.016,"o":-0.0566},{"s":"E2f","t":1.1176,"o":-0.04},{"s":"E2f","t":1.2192,"o":-0.0305},{"s":"E2f","t":1.3716,"o":-0.0237},{"s":"E2f","t":1.524,"o":-0.0202},{"s":"E2f","t":1.778,"o":-0.0174},{"s":"E2f","t":2.032,"o":-0.0158},
{"s":"E2g","t":0.7606,"o":-0.2},{"s":"E2g","t":0.7688,"o":-0.19},{"s":"E2g","t":0.7995,"o":-0.156},{"s":"E2g","t":0.82,"o":-0.1387},{"s":"E2g","t":0.8713,"o":-0.1091},{"s":"E2g","t":0.9225,"o":-0.086},{"s":"E2g","t":0.9738,"o":-0.069},{"s":"E2g","t":1.025,"o":-0.0566},{"s":"E2g","t":1.1275,"o":-0.04},{"s":"E2g","t":1.23,"o":-0.0305},{"s":"E2g","t":1.3838,"o":-0.0237},{"s":"E2g","t":1.5375,"o":-0.0202},{"s":"E2g","t":1.7938,"o":-0.0174},{"s":"E2g","t":2.05,"o":-0.0158},
{"s":"T1","t":1.75,"o":-0.0136},{"s":"T1","t":2,"o":-0.0131},{"s":"T1","t":2.5,"o":-0.0121},{"s":"T1","t":3,"o":-0.0114},{"s":"T1","t":4,"o":-0.0098},{"s":"T1","t":5,"o":-0.0084},{"s":"T1","t":7,"o":-0.0064},{"s":"T1","t":10.5,"o":-0.0042},
{"s":"T2","t":1.75,"o":-0.0143},{"s":"T2","t":2,"o":-0.0138},{"s":"T2","t":2.5,"o":-0.0128},{"s":"T2","t":3,"o":-0.012},{"s":"T2","t":4,"o":-0.0102},{"s":"T2","t":5,"o":-0.0088},{"s":"T2","t":7,"o":-0.0067},{"s":"T2","t":10.5,"o":-0.0044},
{"s":"T3","t":1.75,"o":-0.0151},{"s":"T3","t":2,"o":-0.0146},{"s":"T3","t":2.5,"o":-0.0136},{"s":"T3","t":3,"o":-0.0127},{"s":"T3","t":4,"o":-0.0108},{"s":"T3","t":5,"o":-0.0092},{"s":"T3","t":7,"o":-0.007},{"s":"T3","t":10.5,"o":-0.0046},
{"s":"T5","t":1.75,"o":-0.0163},{"s":"T5","t":2,"o":-0.0158},{"s":"T5","t":2.5,"o":-0.0148},{"s":"T5","t":3,"o":-0.0137},{"s":"T5","t":4,"o":-0.0116},{"s":"T5","t":5,"o":-0.0099},{"s":"T5","t":7,"o":-0.0075},{"s":"T5","t":10.5,"o":-0.005},
{"s":"T4","t":1.75,"o":-0.0155},{"s":"T4","t":2,"o":-0.015},{"s":"T4","t":2.5,"o":-0.014},{"s":"T4","t":3,"o":-0.013},{"s":"T4","t":4,"o":-0.0111},{"s":"T4","t":5,"o":-0.0094},{"s":"T4","t":7,"o":-0.0072},{"s":"T4","t":10.5,"o":-0.0047}
]
},
"layer": [
{"data": {"values": [{}]}, "mark": {"type": "rect", "color": "#21409A"},
 "encoding": {"x": {"datum": 0.3, "type": "quantitative", "scale": {"type": "log", "domain": [0.6, 10.5], "nice": false}}, "x2": {"datum": 0.4334}, "y": {"datum": 0.3, "type": "quantitative", "scale": {"domain": [-0.2, 0.2], "nice": false}}, "y2": {"datum": -0.3}}},
{"data": {"values": [{}]}, "mark": {"type": "rect", "color": "#21409A"},
 "encoding": {"x": {"datum": 10.79, "type": "quantitative", "scale": {"type": "log", "domain": [0.6, 10.5], "nice": false}}, "x2": {"datum": 15}, "y": {"datum": 0.3, "type": "quantitative", "scale": {"domain": [-0.2, 0.2], "nice": false}}, "y2": {"datum": -0.3}}},
{"data": {"values": [{}]}, "mark": {"type": "rect", "color": "#21409A"},
 "encoding": {"x": {"datum": 0.3, "type": "quantitative", "scale": {"type": "log", "domain": [0.6, 10.5], "nice": false}}, "x2": {"datum": 15}, "y": {"datum": 0.3, "type": "quantitative", "scale": {"domain": [-0.2, 0.2], "nice": false}}, "y2": {"datum": 0.2259}}},
{"data": {"values": [{}]}, "mark": {"type": "rect", "color": "#E5492A"},
 "encoding": {"x": {"datum": 0.3, "type": "quantitative", "scale": {"type": "log", "domain": [0.6, 10.5], "nice": false}}, "x2": {"datum": 15}, "y": {"datum": 0.3, "type": "quantitative", "scale": {"domain": [-0.2, 0.2], "nice": false}}, "y2": {"datum": 0.2355}}},
{"data": {"name": "curves"},
 "mark": {"type": "line", "strokeWidth": 2.4, "interpolate": "monotone"},
 "encoding": {
  "x": {"field": "t", "type": "quantitative", "scale": {"type": "log", "domain": [0.6, 10.5], "nice": false},
        "axis": {"values": [0.7, 0.8, 0.9, 1, 2, 3, 4, 5, 6, 7, 8, 9, 10], "tickCount": 200,
                 "labelExpr": "datum.value == 1 ? '1' : (datum.value == 5 ? '5' : (datum.value == 10 ? '10' : ''))",
                 "grid": false, "tickSize": 9, "tickWidth": 2, "tickColor": "#000000", "domainColor": "#000000", "domainWidth": 2,
                 "labelFontSize": 50, "labelFont": "DejaVu Sans Condensed", "labelColor": "#000000", "labelPadding": 5, "labelFlush": false, "labelOverlap": false,
                 "title": "τ (fm)", "titleFont": "DejaVu Sans Condensed", "titleFontSize": 48, "titleFontWeight": "normal", "titleColor": "#000000", "titlePadding": 4}},
  "y": {"field": "o", "type": "quantitative", "scale": {"domain": [-0.2, 0.2], "nice": false},
        "axis": {"values": [-0.2, -0.15, -0.1, -0.05, 0, 0.05, 0.1, 0.15, 0.2], "format": ".2f", "grid": false, "tickSize": 9, "tickWidth": 2, "tickColor": "#000000", "domainColor": "#000000", "domainWidth": 2,
                 "labelFontSize": 44, "labelFont": "DejaVu Sans", "labelColor": "#000000", "labelPadding": 10, "labelFlush": false, "labelOverlap": false,
                 "title": "Ω", "titleFont": "DejaVu Sans", "titleFontSize": 56, "titleFontWeight": "normal", "titleColor": "#000000", "titlePadding": 10}},
  "color": {"field": "s", "type": "nominal", "legend": null,
    "scale": {"domain": ["A1","A2","A3","A4","A5","A6","B1a","B1b","B1c","B1d","B1e","B1f","B2a","B2b","B2c","B2d","B2e","B2f","C1","C2","C3","C4","C5","C6","C7","C8","D1","D2","D3","D4","D5","D6","D7","D8","E1a","E1b","E1c","E1d","E1e","E1f","E2a","E2b","E2c","E2d","E2e","E2f","E2g","T1","T2","T3","T4","T5"],
      "range": ["#800080","#BF00BF","#000000","#008000","#FF0000","#000000",
                "#0000FF","#000000","#BF00BF","#800080","#0000FF","#000000",
                "#0000FF","#00BFBF","#008000","#BF00BF","#FF0000","#BFBF00",
                "#00BFBF","#008000","#0000FF","#800080","#BF00BF","#FF0000","#BF00BF","#000000",
                "#00BFBF","#00BFBF","#008000","#FF0000","#000000","#008000","#0000FF","#BF00BF",
                "#BFBF00","#FF0000","#FF0000","#00BFBF","#008000","#0000FF",
                "#008000","#008000","#BF00BF","#FF0000","#00BFBF","#008000","#BFBF00",
                "#000000","#0000FF","#800080","#BF00BF","#BFBF00"]}},
  "strokeDash": {"field": "s", "type": "nominal", "legend": null,
    "scale": {"domain": ["A1","A2","A3","A4","A5","A6","B1a","B1b","B1c","B1d","B1e","B1f","B2a","B2b","B2c","B2d","B2e","B2f","C1","C2","C3","C4","C5","C6","C7","C8","D1","D2","D3","D4","D5","D6","D7","D8","E1a","E1b","E1c","E1d","E1e","E1f","E2a","E2b","E2c","E2d","E2e","E2f","E2g","T1","T2","T3","T4","T5"],
      "range": [[1,0],[1,0],[10,4],[10,4],[10,4],[3,4],
                [3,4],[10,4],[10,4],[3,4],[10,4],[3,4],
                [10,4],[10,4],[10,4],[1,0],[1,0],[3,4],
                [14,4,3,4],[10,4],[1,0],[1,0],[1,0],[10,4],[10,4],[3,4],
                [10,4],[3,4],[10,4],[10,4],[14,4,3,4],[3,4],[14,4,3,4],[3,4],
                [3,4],[10,4],[1,0],[1,0],[3,4],[14,4,3,4],
                [3,4],[10,4],[10,4],[3,4],[3,4],[1,0],[3,4],
                [3,4],[10,4],[1,0],[1,0],[3,4]]}}
 }},
{"data": {"values": [{}]}, "mark": {"type": "text", "text": "Bulk Pressure (unitless):", "align": "right", "baseline": "alphabetic", "font": "DejaVu Sans Condensed", "fontSize": 64, "color": "#000000"},
 "encoding": {"x": {"datum": 3.636, "type": "quantitative", "scale": {"type": "log", "domain": [0.6, 10.5], "nice": false}}, "y": {"datum": 0.2045, "type": "quantitative", "scale": {"domain": [-0.2, 0.2], "nice": false}}}},
{"data": {"values": [{}]}, "mark": {"type": "text", "text": "μ", "align": "left", "baseline": "alphabetic", "font": "DejaVu Sans Condensed", "fontStyle": "italic", "fontSize": 64, "color": "#000000"},
 "encoding": {"x": {"datum": 3.69, "type": "quantitative", "scale": {"type": "log", "domain": [0.6, 10.5], "nice": false}}, "y": {"datum": 0.2045, "type": "quantitative", "scale": {"domain": [-0.2, 0.2], "nice": false}}}},
{"data": {"values": [{}]}, "mark": {"type": "text", "text": "B", "align": "left", "baseline": "alphabetic", "font": "DejaVu Sans Condensed", "fontStyle": "italic", "fontSize": 44, "color": "#000000"},
 "encoding": {"x": {"datum": 3.95, "type": "quantitative", "scale": {"type": "log", "domain": [0.6, 10.5], "nice": false}}, "y": {"datum": 0.2003, "type": "quantitative", "scale": {"domain": [-0.2, 0.2], "nice": false}}}},
{"data": {"values": [{}]}, "mark": {"type": "text", "text": "= 0", "align": "left", "baseline": "alphabetic", "font": "DejaVu Sans Condensed", "fontSize": 64, "color": "#000000"},
 "encoding": {"x": {"datum": 4.206, "type": "quantitative", "scale": {"type": "log", "domain": [0.6, 10.5], "nice": false}}, "y": {"datum": 0.2045, "type": "quantitative", "scale": {"domain": [-0.2, 0.2], "nice": false}}}},
{"data": {"values": [{}]}, "mark": {"type": "rect", "color": "#E5492A", "cornerRadius": 14},
 "encoding": {"x": {"datum": 3.871, "type": "quantitative", "scale": {"type": "log", "domain": [0.6, 10.5], "nice": false}}, "x2": {"datum": 14}, "y": {"datum": 0.1773, "type": "quantitative", "scale": {"domain": [-0.2, 0.2], "nice": false}}, "y2": {"datum": 0.0075}}},
{"data": {"values": [{}]}, "mark": {"type": "rect", "color": "#21409A"},
 "encoding": {"x": {"datum": 4.055, "type": "quantitative", "scale": {"type": "log", "domain": [0.6, 10.5], "nice": false}}, "x2": {"datum": 14}, "y": {"datum": 0.16675, "type": "quantitative", "scale": {"domain": [-0.2, 0.2], "nice": false}}, "y2": {"datum": 0.01807}}},
{"data": {"values": [{}]}, "mark": {"type": "text", "text": "(LHC)", "align": "center", "baseline": "alphabetic", "font": "Open Sans", "fontWeight": "bold", "fontSize": 158, "color": "#FFFFFF"},
 "encoding": {"x": {"datum": 6.93, "type": "quantitative", "scale": {"type": "log", "domain": [0.6, 10.5], "nice": false}}, "y": {"datum": 0.1089, "type": "quantitative", "scale": {"domain": [-0.2, 0.2], "nice": false}}}},
{"data": {"values": [{}]}, "mark": {"type": "text", "text": "μ", "align": "left", "baseline": "alphabetic", "font": "Liberation Serif", "fontStyle": "italic", "fontSize": 240, "color": "#FFFFFF"},
 "encoding": {"x": {"datum": 4.749, "type": "quantitative", "scale": {"type": "log", "domain": [0.6, 10.5], "nice": false}}, "y": {"datum": 0.0398, "type": "quantitative", "scale": {"domain": [-0.2, 0.2], "nice": false}}}},
{"data": {"values": [{}]}, "mark": {"type": "text", "text": "B", "align": "left", "baseline": "alphabetic", "font": "Liberation Serif", "fontStyle": "italic", "fontSize": 170, "color": "#FFFFFF"},
 "encoding": {"x": {"datum": 5.5, "type": "quantitative", "scale": {"type": "log", "domain": [0.6, 10.5], "nice": false}}, "y": {"datum": 0.0289, "type": "quantitative", "scale": {"domain": [-0.2, 0.2], "nice": false}}}},
{"data": {"values": [{}]}, "mark": {"type": "text", "text": "=", "align": "center", "baseline": "alphabetic", "font": "Liberation Serif", "fontSize": 260, "color": "#FFFFFF"},
 "encoding": {"x": {"datum": 7.33, "type": "quantitative", "scale": {"type": "log", "domain": [0.6, 10.5], "nice": false}}, "y": {"datum": 0.0378, "type": "quantitative", "scale": {"domain": [-0.2, 0.2], "nice": false}}}},
{"data": {"values": [{}]}, "mark": {"type": "text", "text": "0", "align": "center", "baseline": "alphabetic", "font": "Liberation Serif", "fontSize": 250, "color": "#FFFFFF"},
 "encoding": {"x": {"datum": 9.3, "type": "quantitative", "scale": {"type": "log", "domain": [0.6, 10.5], "nice": false}}, "y": {"datum": 0.0398, "type": "quantitative", "scale": {"domain": [-0.2, 0.2], "nice": false}}}}
]
}
